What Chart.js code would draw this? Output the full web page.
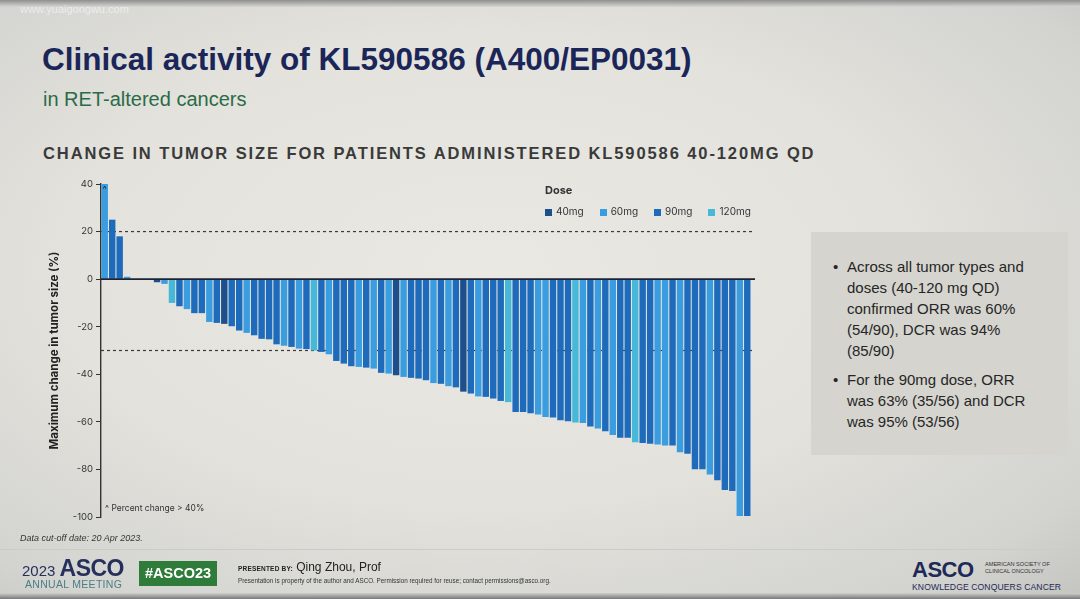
<!DOCTYPE html>
<html lang="en">
<head>
<meta charset="UTF-8">
<title>Clinical activity of KL590586</title>
<script src="https://cdn.jsdelivr.net/npm/chart.js"></script>
<style>
    html, body { margin: 0; padding: 0; }
    body {
        width: 1080px; height: 599px; overflow: hidden; position: relative;
        font-family: "Liberation Sans", Arial, sans-serif;
        background: radial-gradient(ellipse at 45% 45%, #e9e8e3 0%, #e3e2dd 50%, #d3d3cf 85%, #c4c4c1 100%);
    }
    .abs { position: absolute; white-space: nowrap; }
    .topedge { left: 0; top: 0; width: 1080px; height: 7px; background: linear-gradient(#8f908e, #d6d6d2); }
    .botedge { left: 0; top: 593px; width: 1080px; height: 6px; background: linear-gradient(#cfcfcb, #77787a); }
    .watermark { left: 20px; top: 3px; font-size: 11px; color: rgba(255,255,255,0.55); }
    .title { left: 42px; top: 41px; font-size: 31.5px; font-weight: bold; color: #1b2658; }
    .subtitle { left: 43px; top: 88px; font-size: 20px; color: #2b6b47; }
    .header { left: 43px; top: 144px; font-size: 16.5px; font-weight: bold; color: #3a3a3a; letter-spacing: 1.9px; }
    #chartWrap { position: absolute; left: 40px; top: 170px; width: 730px; height: 360px; }
    .legend { left: 545px; top: 183px; font-family: Inter, sans-serif; color: #333; }
    .legend .ttl { font-size: 11px; font-weight: bold; margin-bottom: 2px; }
    .legend .item { display: inline-block; font-size: 10px; margin-right: 16px; }
    .legend .sw { display: inline-block; width: 7px; height: 7px; margin-right: 4px; vertical-align: -0.5px; }
    .note { left: 105px; top: 503px; font-size: 8.5px; color: #333; font-family: Inter, sans-serif; }
    .box { left: 811px; top: 232px; width: 257px; height: 223px; background: #d5d4cf; white-space: normal; }
    .box ul { margin: 0; padding: 0; list-style: none; position: absolute; left: 22px; top: 24px; width: 234px; }
    .box li { position: relative; padding-left: 14px; font-size: 15px; line-height: 21px; color: #262626; margin-bottom: 8px; }
    .box li::before { content: "\2022"; position: absolute; left: 0; top: 0; }
    .cutoff { left: 20px; top: 533px; font-size: 9px; font-style: italic; color: #333; }
    .sep { left: 0; top: 549px; width: 1080px; height: 1px; background: #cbcbc7; }
    .asco1 { left: 22px; top: 556px; line-height: 24px; color: #26305c; }
    .asco1 .yr { font-size: 15px; }
    .asco1 .nm { font-size: 23px; font-weight: bold; letter-spacing: -0.5px; }
    .annual { left: 25px; top: 578px; font-size: 10.5px; line-height: 12px; color: #4a7f86; letter-spacing: 0.3px; }
    .hash { left: 139px; top: 561px; width: 78px; height: 25px; background: #2f7c3a; color: #fff; font-weight: bold; font-size: 14.5px; line-height: 25px; text-align: center; }
    .presented { left: 238px; top: 560px; font-size: 12px; color: #222; }
    .presented b { font-size: 6.5px; letter-spacing: 0.2px; }
    .disclaimer { left: 238px; top: 577px; font-size: 6.3px; color: #333; }
    .asco2 { left: 912px; top: 557px; font-size: 22px; font-weight: bold; color: #1d2a57; letter-spacing: -0.5px; }
    .society { left: 985px; top: 561px; font-size: 5.6px; line-height: 7px; color: #333; }
    .kcc { left: 912px; top: 582px; font-size: 8.6px; color: #1d2a57; letter-spacing: 0.1px; }
</style>
</head>
<body>
<div class="abs topedge"></div>
<div class="abs watermark">www.yuaigongwu.com</div>
<div class="abs title">Clinical activity of KL590586 (A400/EP0031)</div>
<div class="abs subtitle">in RET-altered cancers</div>
<div class="abs header">CHANGE IN TUMOR SIZE FOR PATIENTS ADMINISTERED KL590586 40-120MG QD</div>

<div id="chartWrap"><canvas id="waterfall"></canvas></div>
<div class="abs legend" id="legend"></div>
<div class="abs note">^ Percent change &gt; 40%</div>

<div class="abs box">
    <ul>
        <li>Across all tumor types and<br>doses (40-120 mg QD)<br>confirmed ORR was 60%<br>(54/90), DCR was 94%<br>(85/90)</li>
        <li>For the 90mg dose, ORR<br>was 63% (35/56) and DCR<br>was 95% (53/56)</li>
    </ul>
</div>

<div class="abs cutoff">Data cut-off date: 20 Apr 2023.</div>
<div class="abs sep"></div>
<div class="abs asco1"><span class="yr">2023 </span><span class="nm">ASCO</span></div>
<div class="abs annual">ANNUAL MEETING</div>
<div class="abs hash">#ASCO23</div>
<div class="abs presented"><b>PRESENTED BY:</b> Qing Zhou, Prof</div>
<div class="abs disclaimer">Presentation is property of the author and ASCO. Permission required for reuse; contact permissions@asco.org.</div>
<div class="abs asco2">ASCO</div>
<div class="abs society">AMERICAN SOCIETY OF<br>CLINICAL ONCOLOGY</div>
<div class="abs kcc">KNOWLEDGE CONQUERS CANCER</div>
<div class="abs botedge"></div>

<script>
    // best % change per patient, sorted as on the slide
    const change = [
        40, 25, 18, 1, 0, 0, 0, -1.3, -2, -10,
        -11.4, -12.6, -14.3, -14.3, -18, -18.4, -18.8, -19.8, -21.6, -22.6,
        -23.6, -25.1, -25.3, -27.4, -28, -28.5, -29.2, -29.4, -30, -30.6,
        -31.6, -34.4, -35.5, -36.6, -36.9, -37.2, -37.6, -39.4, -39.7, -40.4,
        -41.1, -41.5, -41.8, -42.5, -43.7, -44, -45, -45.5, -47.3, -48.1,
        -49.3, -49.5, -50.2, -51.2, -51.7, -55.9, -55.9, -56.4, -56.9, -58,
        -58.2, -59.3, -59.7, -60.3, -60.5, -61.9, -62.8, -63.9, -65.5, -66.7,
        -66.7, -68.6, -68.9, -69.2, -69.5, -69.9, -69.9, -72.8, -73.4, -79.9,
        -79.9, -82.1, -84.5, -88.6, -89.1, -99.6, -99.6
    ];
    // dose group of each patient (mg)
    const dose = [
        60, 90, 90, 60, 90, 90, 90, 40, 60, 120,
        90, 60, 90, 90, 60, 90, 40, 90, 90, 60,
        90, 90, 90, 90, 60, 90, 60, 90, 120, 90,
        60, 90, 90, 90, 60, 90, 60, 90, 60, 40,
        60, 90, 90, 90, 60, 90, 60, 90, 40, 90,
        60, 90, 90, 90, 120, 90, 90, 90, 60, 60,
        90, 90, 90, 120, 60, 90, 60, 90, 60, 90,
        90, 120, 90, 90, 60, 60, 90, 60, 90, 90,
        90, 60, 90, 90, 90, 60, 90
    ];
    const patients = change.map((v, i) => 'Pt ' + (i + 1));
    const doseLevels = [40, 60, 90, 120];
    const doseLabels = ['40mg', '60mg', '90mg', '120mg'];
    const doseColors = ['#1d4f8c', '#3a9de0', '#1f6bbb', '#46b8d8'];
    const refLines = [20, -30];
    const yMin = -100, yMax = 40, yStep = 20;

    // legend
    const legendEl = document.getElementById('legend');
    let html = '<div class="ttl">Dose</div>';
    doseLabels.forEach((lbl, i) => {
        html += '<span class="item"><span class="sw" style="background:' + doseColors[i] + '"></span>' + lbl + '</span>';
    });
    legendEl.innerHTML = html;

    const datasets = doseLevels.map((lvl, k) => ({
        label: doseLabels[k],
        data: change.map((v, i) => dose[i] === lvl ? v : null),
        backgroundColor: doseColors[k],
        grouped: false,
        barPercentage: 0.86,
        categoryPercentage: 1.0
    }));

    // dashed reference lines, solid zero line, caret for capped bars
    const extras = {
        id: 'extras',
        beforeDatasetsDraw(chart) {
            const { ctx, chartArea, scales } = chart;
            ctx.save();
            ctx.strokeStyle = '#3b3b3b';
            ctx.lineWidth = 1.2;
            ctx.setLineDash([3, 3]);
            refLines.forEach(v => {
                const y = scales.y.getPixelForValue(v);
                ctx.beginPath();
                ctx.moveTo(chartArea.left, y);
                ctx.lineTo(chartArea.right + 4, y);
                ctx.stroke();
            });
            ctx.restore();
        },
        afterDatasetsDraw(chart) {
            const { ctx, chartArea, scales } = chart;
            ctx.save();
            const y0 = scales.y.getPixelForValue(0);
            ctx.strokeStyle = '#1c2238';
            ctx.lineWidth = 1.6;
            ctx.beginPath();
            ctx.moveTo(chartArea.left, y0);
            ctx.lineTo(chartArea.right + 4, y0);
            ctx.stroke();
            ctx.fillStyle = '#1c2238';
            ctx.font = '9px Inter, sans-serif';
            ctx.textAlign = 'center';
            ctx.textBaseline = 'top';
            chart.data.datasets.forEach((ds, d) => {
                const meta = chart.getDatasetMeta(d);
                ds.data.forEach((v, i) => {
                    if (v !== null && v >= yMax) {
                        const el = meta.data[i];
                        ctx.fillText('^', el.x, el.y + 1);
                    }
                });
            });
            ctx.restore();
        }
    };

    new Chart(document.getElementById('waterfall'), {
        type: 'bar',
        data: { labels: patients, datasets: datasets },
        options: {
            responsive: true,
            maintainAspectRatio: false,
            animation: false,
            layout: { padding: { top: 14, bottom: 13, right: 19, left: 0 } },
            plugins: { legend: { display: false }, tooltip: { enabled: false } },
            scales: {
                x: { display: false },
                y: {
                    min: yMin,
                    max: yMax,
                    afterFit(scale) { scale.width = 61; },
                    ticks: {
                        stepSize: yStep,
                        color: '#333',
                        padding: 3,
                        font: { family: 'Inter, sans-serif', size: 9.5 }
                    },
                    grid: { drawOnChartArea: false, drawTicks: true, tickLength: 5, tickColor: '#333', tickWidth: 1 },
                    border: { display: true, color: '#333', width: 1.4 },
                    title: {
                        display: true,
                        text: 'Maximum change in tumor size (%)',
                        color: '#222',
                        padding: { top: 8, bottom: 6 },
                        font: { family: 'Inter, sans-serif', size: 11.5, weight: 'bold' }
                    }
                }
            }
        },
        plugins: [extras]
    });
</script>
</body>
</html>
